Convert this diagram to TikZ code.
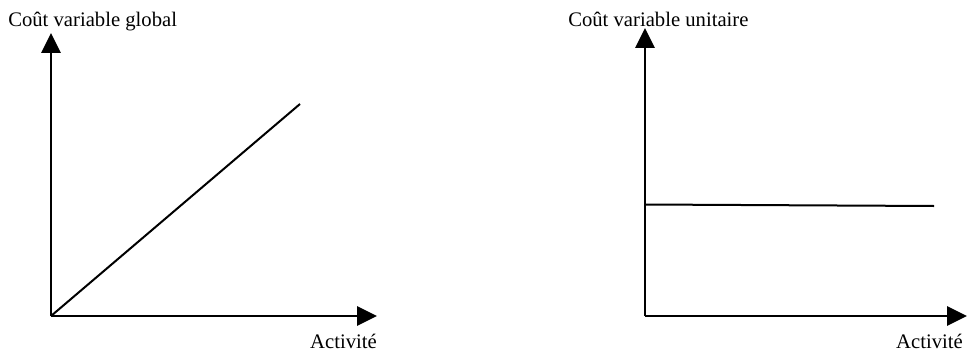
\documentclass[tikz,border=0pt]{standalone}
\usepackage{fontspec}
\setmainfont{Liberation Serif}
\usetikzlibrary{arrows.meta}
\begin{document}
\begin{tikzpicture}[x=0.75pt,y=-0.75pt,
  axis/.style={line width=1.5pt,-{Triangle[length=15pt,width=14.5pt]}},
  curve/.style={line width=1.5pt},
  lbl/.style={inner sep=0pt,font=\fontsize{15.5}{18}\selectfont}]
\useasboundingbox (0,0) rectangle (969,353);
% left chart: total variable cost
\coordinate (o1) at (51,316);
\coordinate (y1) at (51,33);
\coordinate (x1) at (377,316);
\coordinate (d1) at (300,104);
\draw[axis] (o1) -- (y1);
\draw[axis] (o1) -- (x1);
\draw[curve] (o1) -- (d1);
\node[lbl,anchor=base west] (t1) at (8,27) {Coût variable global};
\node[lbl,anchor=base east] (a1) at (377,348) {Activité};
% right chart: unit variable cost
\coordinate (o2) at (645,316);
\coordinate (y2) at (645,28);
\coordinate (x2) at (967,316);
\coordinate (h2a) at (645,204.5);
\coordinate (h2b) at (934,206);
\draw[axis] (o2) -- (y2);
\draw[axis] (o2) -- (x2);
\draw[curve] (h2a) -- (h2b);
\node[lbl,anchor=base west] (t2) at (568,27) {Coût variable unitaire};
\node[lbl,anchor=base east] (a2) at (963,348) {Activité};
\end{tikzpicture}
\end{document}
